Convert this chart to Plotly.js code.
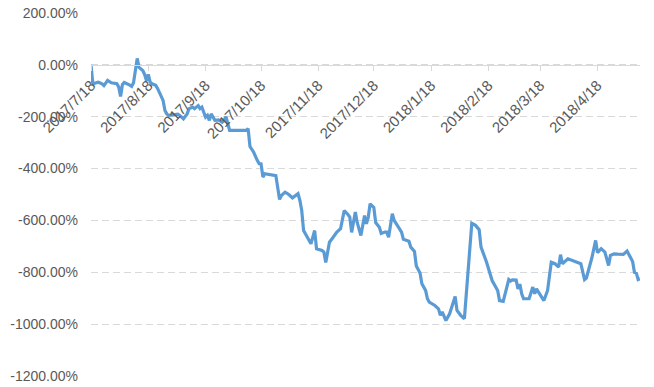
<!DOCTYPE html>
<html>
<head>
<meta charset="utf-8">
<script src="https://cdn.plot.ly/plotly-3.0.1.min.js"></script>
<style>html,body{margin:0;padding:0;background:#fff;}#chart{width:654px;height:387px;}</style>
</head>
<body>
<div id="chart"></div>
<script>
const dates = [
"2017-07-18","2017-07-19","2017-07-22","2017-07-24","2017-07-25","2017-07-27","2017-07-29",
"2017-08-01","2017-08-02","2017-08-03","2017-08-04","2017-08-05","2017-08-08","2017-08-09","2017-08-10",
"2017-08-12","2017-08-13","2017-08-15","2017-08-16","2017-08-17","2017-08-18","2017-08-19","2017-08-20",
"2017-08-22","2017-08-23","2017-08-24","2017-08-25","2017-08-26","2017-08-27","2017-08-28","2017-08-29",
"2017-09-01","2017-09-03","2017-09-04","2017-09-06","2017-09-08","2017-09-09","2017-09-11","2017-09-12",
"2017-09-14","2017-09-15","2017-09-16","2017-09-18","2017-09-19","2017-09-20","2017-09-21","2017-09-22",
"2017-09-23","2017-09-25","2017-09-27","2017-09-28","2017-09-29","2017-09-30",
"2017-10-01","2017-10-10","2017-10-11","2017-10-12","2017-10-14","2017-10-16","2017-10-17","2017-10-18",
"2017-10-19","2017-10-20","2017-10-23","2017-10-26","2017-10-28","2017-10-29","2017-10-31",
"2017-11-02","2017-11-04","2017-11-07","2017-11-08","2017-11-09","2017-11-10","2017-11-12","2017-11-14",
"2017-11-16","2017-11-17","2017-11-20","2017-11-21","2017-11-22","2017-11-24","2017-11-26","2017-11-28","2017-11-30",
"2017-12-02","2017-12-04","2017-12-05","2017-12-06","2017-12-08","2017-12-09","2017-12-11","2017-12-13",
"2017-12-14","2017-12-15","2017-12-16","2017-12-18","2017-12-19","2017-12-21","2017-12-22","2017-12-24",
"2017-12-25","2017-12-26","2017-12-28","2017-12-29","2017-12-31",
"2018-01-02","2018-01-03","2018-01-06","2018-01-07","2018-01-09","2018-01-10","2018-01-12","2018-01-13",
"2018-01-15","2018-01-16","2018-01-17","2018-01-20","2018-01-22","2018-01-23","2018-01-24","2018-01-26",
"2018-01-28","2018-01-31",
"2018-02-01","2018-02-03","2018-02-05","2018-02-09","2018-02-11","2018-02-13","2018-02-14","2018-02-17",
"2018-02-20","2018-02-23","2018-02-24","2018-02-26",
"2018-03-01","2018-03-02","2018-03-03","2018-03-05","2018-03-06","2018-03-07","2018-03-08","2018-03-09",
"2018-03-12","2018-03-14","2018-03-15","2018-03-16","2018-03-18","2018-03-20","2018-03-22","2018-03-24",
"2018-03-26","2018-03-28","2018-03-29","2018-03-30",
"2018-04-02","2018-04-06","2018-04-09","2018-04-11","2018-04-12","2018-04-15","2018-04-17","2018-04-18",
"2018-04-20","2018-04-22","2018-04-24","2018-04-25","2018-04-27","2018-04-29",
"2018-05-02","2018-05-04","2018-05-06","2018-05-07","2018-05-08","2018-05-09","2018-05-10","2018-05-11"
];
const returnsPct = [
0,-73,-67,-73,-80,-60,-69,
-73,-86,-122,-76,-68,-78,-83,-69,
25,-10,-22,-37,-60,-37,-67,-73,
-79,-91,-105,-125,-137,-176,-189,-195,
-192,-190,-195,-208,-189,-169,-163,-169,
-157,-169,-163,-202,-195,-214,-189,-202,
-214,-212,-221,-214,-200,-226,
-253,-253,-246,-315,-337,-369,-381,-382,
-433,-420,-423,-427,-519,-504,-491,
-500,-513,-497,-523,-562,-639,-665,-690,
-639,-709,-716,-722,-762,-684,-665,-645,-632,
-562,-577,-587,-646,-568,-608,-658,-581,
-613,-587,-536,-550,-608,-626,-650,-645,
-645,-665,-574,-600,-620,
-645,-673,-680,-703,-720,-776,-803,-844,
-870,-902,-915,-928,-941,-966,-953,-986,
-960,-893,
-947,-966,-979,-611,-619,-636,-703,-761,
-832,-870,-909,-912,
-828,-834,-829,-830,-864,-845,-883,-902,
-902,-857,-883,-864,-889,-909,-870,-761,
-767,-780,-732,-767,
-748,-757,-767,-828,-822,-743,-677,-724,
-709,-722,-774,-735,-729,-730,
-731,-718,-742,-758,-800,-803,-828,-825
];
const yTicks = [200,0,-200,-400,-600,-800,-1000,-1200];
const yTickText = yTicks.map(v => v.toFixed(2) + "%");
const yRange = [-1200, 200];
const xRange = ["2017-07-18", "2018-05-11"];

const trace = {
  x: dates, y: returnsPct, type: "scatter", mode: "lines",
  line: {color: "#5B9BD5", width: 3.2}, hoverinfo: "skip"
};
const fontFamily = "Liberation Sans, Arial, sans-serif";
const layout = {
  width: 654, height: 387,
  margin: {l: 91, r: 14, t: 13, b: 11},
  paper_bgcolor: "#ffffff", plot_bgcolor: "#ffffff",
  showlegend: false,
  xaxis: {
    type: "date", range: xRange, tick0: xRange[0], dtick: "M1",
    tickformat: "%Y/%-m/%-d", tickangle: -45,
    anchor: "free", position: (0 - yRange[0]) / (yRange[1] - yRange[0]),
    showgrid: false, zeroline: false,
    showline: true, linecolor: "#D9D9D9", linewidth: 1,
    ticks: "outside", ticklen: 5, tickcolor: "#D9D9D9", tickwidth: 1,
    tickfont: {family: fontFamily, size: 15, color: "#595959"},
    fixedrange: true
  },
  yaxis: {
    range: yRange, tickvals: yTicks, ticktext: yTickText,
    showgrid: true, gridcolor: "#D9D9D9", gridwidth: 1, griddash: "7px,4px",
    zeroline: false, showline: false, ticks: "",
    ticklabelstandoff: 12,
    tickfont: {family: fontFamily, size: 14, color: "#595959"},
    fixedrange: true
  }
};
Plotly.newPlot("chart", [trace], layout, {displayModeBar: false, staticPlot: true});
</script>
</body>
</html>
